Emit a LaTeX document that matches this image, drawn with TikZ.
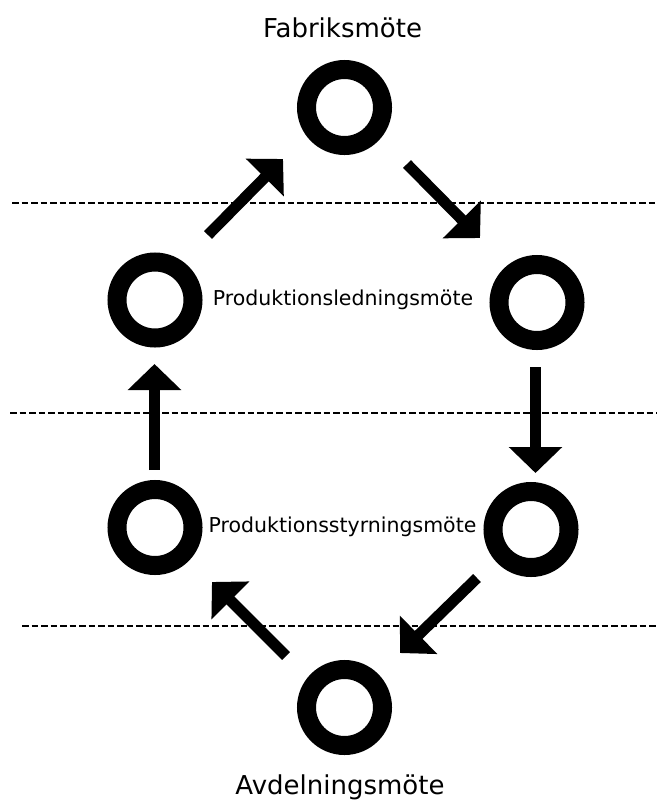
\documentclass[tikz,border=0pt]{standalone}
\usepackage{fontspec}
\setmainfont{DejaVu Sans}
\usetikzlibrary{arrows.meta}
\begin{document}
\begin{tikzpicture}[x=1pt,y=-1pt,
  meeting/.style={circle,draw=black,line width=19pt,minimum size=76pt,inner sep=0pt},
  flow/.style={line width=11pt,-{Triangle[length=26pt,width=52pt]}},
  level/.style={line width=2pt,dash pattern=on 6.5pt off 3pt},
  bigtext/.style={anchor=base,inner sep=0pt,font=\fontsize{26}{30}\selectfont},
  midtext/.style={anchor=base,inner sep=0pt,font=\fontsize{20.5}{24}\selectfont}]
\useasboundingbox (0,0) rectangle (657,801);

% level separators
\coordinate (l1a) at (12,203);  \coordinate (l1b) at (657,203);
\coordinate (l2a) at (10,413);  \coordinate (l2b) at (657,413);
\coordinate (l3a) at (22,626);  \coordinate (l3b) at (657,626);
\draw[level] (l1a) -- (l1b);
\draw[level] (l2a) -- (l2b);
\draw[level] (l3a) -- (l3b);

% meetings
\node[meeting] (top) at (344.5,107.5) {};
\node[meeting] (pl) at (155,300) {};
\node[meeting] (pr) at (537,302.5) {};
\node[meeting] (sl) at (155,527.5) {};
\node[meeting] (sr) at (531,529.5) {};
\node[meeting] (bot) at (344.5,707.5) {};

% labels
\node[bigtext] (tFab) at (342.5,37) {Fabriksmöte};
\node[midtext] (tPL) at (343,305) {Produktionsledningsmöte};
\node[midtext] (tPS) at (342.5,532) {Produktionsstyrningsmöte};
\node[bigtext] (tAvd) at (340,794.5) {Avdelningsmöte};

% flow arrows
\coordinate (a1s) at (208,235);   \coordinate (a1e) at (283,159);
\coordinate (a2s) at (407,164);   \coordinate (a2e) at (480,238);
\coordinate (a3s) at (535.5,367); \coordinate (a3e) at (535.5,473);
\coordinate (a4s) at (477,578);   \coordinate (a4e) at (400,653);
\coordinate (a5s) at (286,656);   \coordinate (a5e) at (212,582);
\coordinate (a6s) at (154.5,470); \coordinate (a6e) at (154.5,364);
\draw[flow] (a1s) -- (a1e);
\draw[flow] (a2s) -- (a2e);
\draw[flow] (a3s) -- (a3e);
\draw[flow] (a4s) -- (a4e);
\draw[flow] (a5s) -- (a5e);
\draw[flow] (a6s) -- (a6e);
\end{tikzpicture}
\end{document}
